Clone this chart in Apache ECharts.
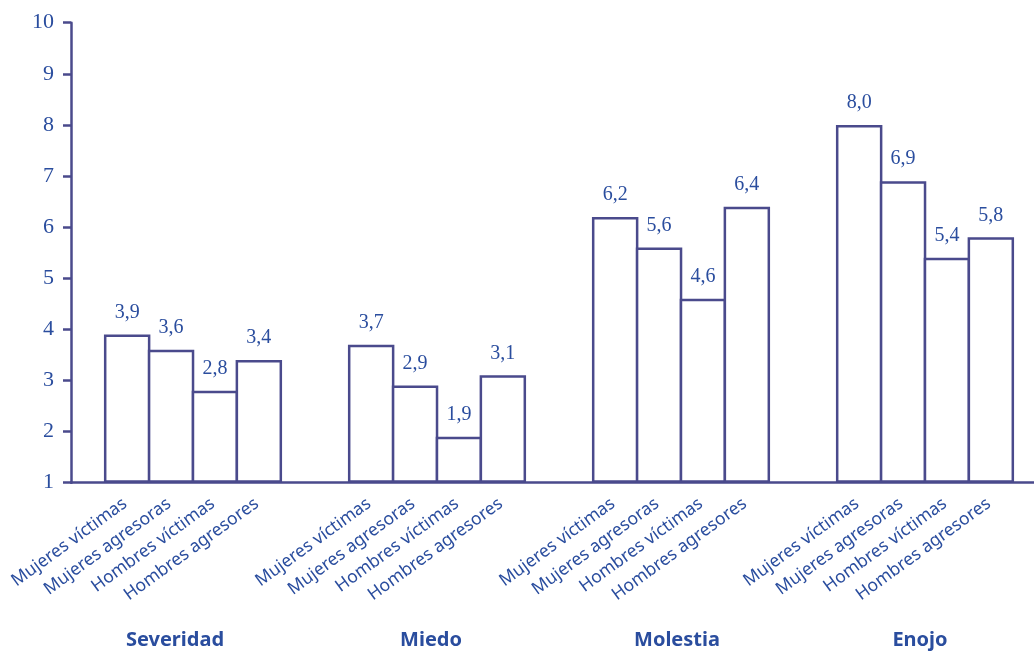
<!DOCTYPE html>
<html>
<head>
<meta charset="utf-8">
<script src="https://cdn.jsdelivr.net/npm/echarts@6/dist/echarts.min.js"></script>
<style>
html,body{margin:0;padding:0;background:#fff;}
#chart{width:1034px;height:653px;}
</style>
</head>
<body>
<div id="chart"></div>
<script>
// Data
const groups = ['Severidad', 'Miedo', 'Molestia', 'Enojo'];
const barNames = ['Mujeres víctimas', 'Mujeres agresoras', 'Hombres víctimas', 'Hombres agresores'];
const mujeresVictimas   = [3.9, 3.7, 6.2, 8.0];
const mujeresAgresoras  = [3.6, 2.9, 5.6, 6.9];
const hombresVictimas   = [2.8, 1.9, 4.6, 5.4];
const hombresAgresores  = [3.4, 3.1, 6.4, 5.8];
const yTicks = [1, 2, 3, 4, 5, 6, 7, 8, 9, 10];

const seriesValues = [mujeresVictimas, mujeresAgresoras, hombresVictimas, hombresAgresores];

const TEXT = '#2a4d9e';
const LINE = '#4a4a8c';

// small left shifts of the group titles, as in the reference
const groupTitleShift = [36, 12, 8, 10];

const chart = echarts.init(document.getElementById('chart'), null, {renderer: 'canvas'});

const series = barNames.map((name, i) => ({
  name: name,
  type: 'bar',
  data: seriesValues[i],
  barGap: '-5.5%',
  barCategoryGap: '27%',
  itemStyle: { color: '#ffffff', borderColor: LINE, borderWidth: 2.5 },
  label: {
    show: true,
    position: 'top',
    distance: 12,
    fontFamily: 'Liberation Serif',
    fontSize: 20,
    color: TEXT,
    formatter: p => p.value.toFixed(1).replace('.', ',')
  },
  markPoint: {
    symbol: 'circle',
    symbolSize: 0,
    silent: true,
    itemStyle: { color: 'rgba(0,0,0,0)' },
    label: {
      show: true,
      position: [-2, 19],
      rotate: 36,
      align: 'right',
      verticalAlign: 'middle',
      fontFamily: 'Noto Sans',
      fontSize: 17.5,
      color: TEXT,
      formatter: () => name
    },
    data: groups.map((g, j) => ({ coord: [j, yTicks[0]] }))
  }
}));

const titleRich = {};
groupTitleShift.forEach((s, j) => {
  titleRich['g' + j] = {
    fontFamily: 'Noto Sans',
    fontWeight: 'bold',
    fontSize: 20,
    color: TEXT,
    padding: [0, s, 0, 0]
  };
});

chart.setOption({
  animation: false,
  backgroundColor: '#ffffff',
  grid: { left: 71, width: 976, top: 22.7, bottom: 170.3, containLabel: false, outerBoundsMode: 'none' },
  xAxis: {
    type: 'category',
    data: groups,
    axisLine: { show: true, lineStyle: { color: LINE, width: 2.5 } },
    axisTick: { show: false },
    axisLabel: {
      margin: 148,
      fontFamily: 'Noto Sans',
      fontWeight: 'bold',
      fontSize: 20,
      color: TEXT,
      formatter: (v, j) => '{g' + j + '|' + v + '}',
      rich: titleRich
    },
    splitLine: { show: false }
  },
  yAxis: {
    type: 'value',
    min: yTicks[0],
    max: yTicks[yTicks.length - 1],
    interval: 1,
    startValue: yTicks[0],
    axisLine: { show: true, lineStyle: { color: LINE, width: 2.5 } },
    axisTick: { show: true, length: 8, lineStyle: { color: LINE, width: 2.5 } },
    axisLabel: {
      margin: 17,
      fontFamily: 'Liberation Serif',
      fontSize: 22,
      color: TEXT
    },
    splitLine: { show: false }
  },
  series: series
});
</script>
</body>
</html>
